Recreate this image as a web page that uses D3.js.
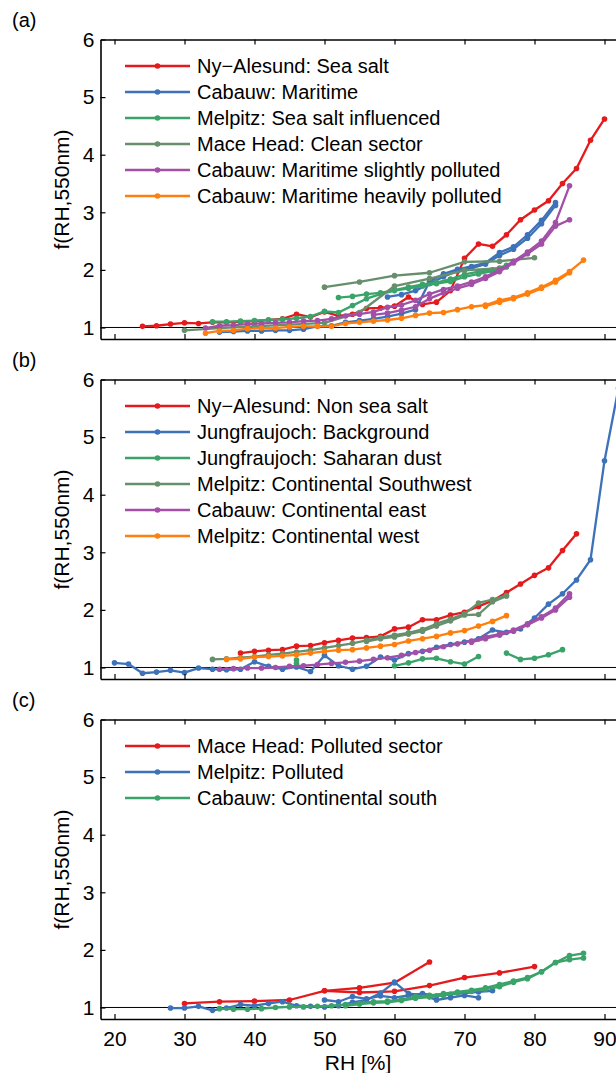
<!DOCTYPE html>
<html>
<head>
<meta charset="utf-8">
<script src="https://cdn.jsdelivr.net/npm/d3@7"></script>
<style>
body { margin: 0; background: #fff; }
svg { display: block; font-family: "Liberation Sans", Arial, sans-serif; }
</style>
</head>
<body>
<script>
// axis ticks
var xTicks = [20, 30, 40, 50, 60, 70, 80, 90];
var yTicks = [1, 2, 3, 4, 5, 6];
var panelLabels = ['(a)', '(b)', '(c)'];

// legend text per panel
var legendA = ['Ny\u2212Alesund: Sea salt', 'Cabauw: Maritime', 'Melpitz: Sea salt influenced',
	'Mace Head: Clean sector', 'Cabauw: Maritime slightly polluted', 'Cabauw: Maritime heavily polluted'];
var legendB = ['Ny\u2212Alesund: Non sea salt', 'Jungfraujoch: Background', 'Jungfraujoch: Saharan dust',
	'Melpitz: Continental Southwest', 'Cabauw: Continental east', 'Melpitz: Continental west'];
var legendC = ['Mace Head: Polluted sector', 'Melpitz: Polluted', 'Cabauw: Continental south'];

// (a) humidograms, [RH, f(RH)]
var a_nySeaSalt = [[24,1.02],[26,1.03],[28,1.06],[30,1.08],[32,1.07],[34,1.09],[36,1.09],[38,1.10],[40,1.11],[42,1.13],[44,1.15],[46,1.23],[48,1.18],[50,1.27],[52,1.20],[54,1.23],[56,1.33],[58,1.34],[60,1.37],[62,1.53],[64,1.40],[66,1.44],[68,1.64],[70,2.20],[72,2.45],[74,2.41],[76,2.61],[78,2.87],[80,3.04],[82,3.20],[84,3.50],[86,3.76],[88,4.25],[90,4.62]];
var a_cabMaritime1 = [[35,0.92],[37,0.93],[39,0.94],[41,0.94],[43,0.95],[45,0.95],[47,0.97],[49,1.02],[51,1.03],[53,1.09],[55,1.12],[57,1.15],[59,1.19],[61,1.24],[63,1.31],[65,1.80],[67,1.93],[69,2.01],[71,2.06],[73,2.12],[75,2.30],[77,2.40],[79,2.61],[81,2.86],[83,3.17]];
var a_cabMaritime2 = [[59,1.53],[61,1.57],[63,1.64],[65,1.76],[67,1.88],[69,1.98],[71,2.03],[73,2.10],[75,2.25],[77,2.36],[79,2.55],[81,2.80],[83,3.12]];
var a_melpitzSS1 = [[34,1.10],[36,1.10],[38,1.11],[40,1.12],[42,1.13],[44,1.14],[46,1.16],[48,1.19],[50,1.28],[52,1.26],[54,1.38],[56,1.50],[58,1.58],[60,1.64],[62,1.68],[64,1.72],[66,1.76],[68,1.80],[70,1.88],[72,1.93],[74,1.98],[76,2.05]];
var a_melpitzSS2 = [[52,1.52],[54,1.54],[56,1.58],[58,1.60],[60,1.65],[62,1.70],[64,1.75],[66,1.78],[68,1.84],[70,1.92],[72,1.97],[74,2.00],[76,2.08]];
var a_maceClean1 = [[50,1.70],[55,1.79],[60,1.90],[65,1.95],[70,2.14],[75,2.15],[80,2.21]];
var a_maceClean2 = [[30,0.95],[35,0.99],[40,1.02],[45,1.05],[50,1.08],[55,1.26],[60,1.72],[65,1.85],[70,1.99],[75,2.03]];
var a_cabSlight1 = [[33,0.99],[35,1.03],[37,1.04],[39,1.06],[41,1.07],[43,1.08],[45,1.09],[47,1.11],[49,1.12],[51,1.15],[53,1.20],[55,1.23],[57,1.27],[59,1.35],[61,1.39],[63,1.47],[65,1.58],[67,1.66],[69,1.72],[71,1.79],[73,1.88],[75,2.00],[77,2.15],[79,2.31],[81,2.50],[83,2.82],[85,3.46]];
var a_cabSlight2 = [[57,1.22],[59,1.25],[61,1.30],[63,1.36],[65,1.50],[67,1.60],[69,1.68],[71,1.75],[73,1.85],[75,1.97],[77,2.12],[79,2.28],[81,2.45],[83,2.76],[85,2.87]];
var a_cabHeavy1 = [[33,0.90],[35,0.94],[37,0.95],[39,0.98],[41,0.99],[43,0.99],[45,1.01],[47,1.02],[49,1.02],[51,1.02],[53,1.07],[55,1.09],[57,1.11],[59,1.13],[61,1.16],[63,1.21],[65,1.25],[67,1.26],[69,1.31],[71,1.36],[73,1.39],[75,1.47],[77,1.52],[79,1.60],[81,1.70],[83,1.82],[85,1.97],[87,2.17]];
var a_cabHeavy2 = [[73,1.37],[75,1.44],[77,1.50],[79,1.58],[81,1.68],[83,1.79],[85,1.95]];

// (b)
var b_nyNonSS = [[38,1.25],[40,1.28],[42,1.30],[44,1.31],[46,1.37],[48,1.38],[50,1.43],[52,1.47],[54,1.51],[56,1.52],[58,1.54],[60,1.67],[62,1.70],[64,1.83],[66,1.83],[68,1.91],[70,1.96],[72,2.06],[74,2.16],[76,2.30],[78,2.45],[80,2.60],[82,2.73],[84,3.03],[86,3.32]];
var b_jfjBack = [[20,1.08],[22,1.06],[24,0.90],[26,0.92],[28,0.95],[30,0.91],[32,0.99],[34,0.97],[36,0.96],[38,0.97],[40,1.10],[42,1.02],[44,0.97],[46,1.01],[48,0.93],[50,1.21],[52,1.03],[54,0.97],[56,1.02],[58,1.18],[60,1.13],[62,1.24],[64,1.28],[66,1.35],[68,1.40],[70,1.44],[72,1.50],[74,1.65],[76,1.61],[78,1.67],[80,1.86],[82,2.10],[84,2.28],[86,2.52],[88,2.87],[90,4.59],[92,5.85]];
var b_jfjSahara1 = [[46,1.13],[46,1.07]];
var b_jfjSahara2 = [[60,1.03],[62,1.08],[64,1.15],[66,1.16],[68,1.10],[70,1.06],[72,1.19]];
var b_jfjSahara3 = [[76,1.25],[78,1.14],[80,1.16],[82,1.22],[84,1.31]];
var b_melSW1 = [[34,1.14],[36,1.15],[38,1.17],[40,1.19],[42,1.22],[44,1.24],[46,1.27],[48,1.30],[50,1.34],[52,1.38],[54,1.42],[56,1.47],[58,1.52],[60,1.56],[62,1.60],[64,1.66],[66,1.76],[68,1.84],[70,1.93],[72,2.12],[74,2.18],[76,2.25]];
var b_melSW2 = [[56,1.45],[58,1.50],[60,1.53],[62,1.58],[64,1.63],[66,1.72],[68,1.81],[70,1.91],[72,1.92],[74,2.14],[76,2.24]];
var b_cabEast1 = [[35,0.97],[37,0.98],[39,0.99],[41,0.99],[43,1.00],[45,1.02],[47,1.03],[49,1.05],[51,1.07],[53,1.09],[55,1.11],[57,1.14],[59,1.17],[61,1.21],[63,1.26],[65,1.30],[67,1.36],[69,1.41],[71,1.46],[73,1.53],[75,1.58],[77,1.65],[79,1.76],[81,1.88],[83,2.03],[85,2.28]];
var b_cabEast2 = [[71,1.44],[73,1.50],[75,1.56],[77,1.63],[79,1.74],[81,1.86],[83,2.00],[85,2.22]];
var b_melWest = [[36,1.14],[38,1.15],[40,1.18],[42,1.19],[44,1.20],[46,1.22],[48,1.25],[50,1.28],[52,1.30],[54,1.31],[56,1.34],[58,1.37],[60,1.40],[62,1.46],[64,1.50],[66,1.54],[68,1.60],[70,1.64],[72,1.72],[74,1.80],[76,1.90]];

// (c)
var c_macePoll1 = [[30,1.07],[35,1.10],[40,1.11],[45,1.13],[50,1.29],[55,1.34],[60,1.43],[65,1.79]];
var c_macePoll2 = [[50,1.29],[55,1.26],[60,1.28],[65,1.38],[70,1.52],[75,1.60],[80,1.71]];
var c_melPoll1 = [[28,0.99],[30,0.99],[32,1.02],[34,0.95],[36,0.99],[38,1.05],[40,1.03],[42,1.07],[44,1.10],[46,1.03],[48,1.02],[50,1.01],[52,1.03],[54,1.09],[56,1.13],[58,1.25],[60,1.44],[62,1.24],[64,1.22],[66,1.13],[68,1.17],[70,1.21],[72,1.17]];
var c_melPoll2 = [[50,1.13],[52,1.10],[54,1.19],[56,1.15],[58,1.20],[60,1.17],[62,1.21],[64,1.24],[66,1.20],[68,1.23],[70,1.25],[72,1.27],[74,1.29]];
var c_cabSouth1 = [[35,0.98],[37,0.97],[39,0.97],[41,0.98],[43,1.00],[45,1.01],[47,1.01],[49,1.02],[51,1.03],[53,1.05],[55,1.07],[57,1.10],[59,1.11],[61,1.14],[63,1.19],[65,1.21],[67,1.24],[69,1.27],[71,1.30],[73,1.34],[75,1.40],[77,1.46],[79,1.52],[81,1.62],[83,1.78],[85,1.90],[87,1.94]];
var c_cabSouth2 = [[53,1.03],[55,1.06],[57,1.08],[59,1.09],[61,1.12],[63,1.16],[65,1.18],[67,1.21],[69,1.25],[71,1.28],[73,1.32],[75,1.36],[77,1.44],[79,1.50],[81,1.62],[83,1.78],[85,1.83],[87,1.86]];

var colA = ['#e41a1c', '#3d72b8', '#3aa36a', '#678f6c', '#a24fa8', '#ff7f0e'];
var colB = ['#e41a1c', '#3d72b8', '#3aa36a', '#678f6c', '#a24fa8', '#ff7f0e'];
var colC = ['#e41a1c', '#3d72b8', '#3aa36a'];

var panels = [
	{ names: legendA, colors: colA, series: [
		[a_nySeaSalt], [a_cabMaritime1, a_cabMaritime2], [a_melpitzSS1, a_melpitzSS2],
		[a_maceClean1, a_maceClean2], [a_cabSlight1, a_cabSlight2], [a_cabHeavy1, a_cabHeavy2]] },
	{ names: legendB, colors: colB, series: [
		[b_nyNonSS], [b_jfjBack], [b_jfjSahara1, b_jfjSahara2, b_jfjSahara3],
		[b_melSW1, b_melSW2], [b_cabEast1, b_cabEast2], [b_melWest]] },
	{ names: legendC, colors: colC, series: [
		[c_macePoll1, c_macePoll2], [c_melPoll1, c_melPoll2], [c_cabSouth1, c_cabSouth2]] }
];

var w = 616, h = 1073;
var font = '"Liberation Sans", Arial, sans-serif';
var svg = d3.select('body').append('svg')
	.attr('width', w)
	.attr('height', h);

var x = d3.scaleLinear().domain([18, 100]).range([100.5, 674.5]);

panels.forEach(function(p, i) {
	var top = 39.5 + 340 * i;
	var y = d3.scaleLinear().domain([0.8, 6]).range([top + 299.5, top]);
	var g = svg.append('g');

	// f = 1 reference line
	g.append('line')
		.attr('x1', x.range()[0]).attr('x2', x.range()[1])
		.attr('y1', y(1)).attr('y2', y(1))
		.attr('stroke', '#000').attr('stroke-width', 1);

	var lf = d3.line()
		.x(function(d) { return x(d[0]); })
		.y(function(d) { return y(d[1]); });

	p.series.forEach(function(branches, k) {
		var c = p.colors[k];
		branches.forEach(function(b) {
			g.append('path')
				.datum(b)
				.attr('fill', 'none')
				.attr('stroke', c)
				.attr('stroke-width', 2.3)
				.attr('stroke-linejoin', 'round')
				.attr('d', lf);
			g.selectAll(null)
				.data(b)
				.enter()
				.append('circle')
					.attr('cx', function(d) { return x(d[0]); })
					.attr('cy', function(d) { return y(d[1]); })
					.attr('r', 2.8)
					.attr('fill', c);
		});
	});

	// frame + inward ticks
	var bottom = d3.axisBottom(x).tickValues(xTicks).tickSizeInner(-5).tickSizeOuter(0).tickPadding(12)
		.tickFormat(i === 2 ? d3.format('d') : '');
	var axB = g.append('g').attr('transform', 'translate(0,' + y(0.8) + ')').call(bottom);
	var axT = g.append('g').attr('transform', 'translate(0,' + y(6) + ')')
		.call(d3.axisTop(x).tickValues(xTicks).tickSizeInner(-5).tickSizeOuter(0).tickFormat(''));
	var axL = g.append('g').attr('transform', 'translate(' + x(18) + ',0)')
		.call(d3.axisLeft(y).tickValues(yTicks).tickSizeInner(-5).tickSizeOuter(0).tickPadding(6)
			.tickFormat(d3.format('d')));
	[axB, axT, axL].forEach(function(a) {
		a.selectAll('path').attr('stroke-width', 1.6);
		a.selectAll('line').attr('stroke-width', 1.2);
		a.selectAll('text').attr('font-size', 21).attr('font-family', font).attr('fill', '#000');
	});

	// legend
	p.names.forEach(function(n, k) {
		var ly = top + 26.5 + 26 * k;
		g.append('line').attr('x1', 125).attr('x2', 190).attr('y1', ly).attr('y2', ly)
			.attr('stroke', p.colors[k]).attr('stroke-width', 2.3);
		g.append('circle').attr('cx', 157.5).attr('cy', ly).attr('r', 2.8).attr('fill', p.colors[k]);
		g.append('text').attr('x', 197).attr('y', ly).attr('dy', '0.35em')
			.attr('font-size', 20).text(n);
	});

	g.append('text').attr('x', 12).attr('y', top - 20).attr('dy', '0.35em')
		.attr('font-size', 20).text(panelLabels[i]);

	g.append('text')
		.attr('transform', 'translate(62,' + (top + 150) + ') rotate(-90)')
		.attr('text-anchor', 'middle').attr('dy', '0.35em')
		.attr('font-size', 21).text('f(RH,550nm)');
});

svg.append('text').attr('x', 358).attr('y', 1070).attr('text-anchor', 'middle')
	.attr('font-size', 21).text('RH [%]');
</script>
</body>
</html>
